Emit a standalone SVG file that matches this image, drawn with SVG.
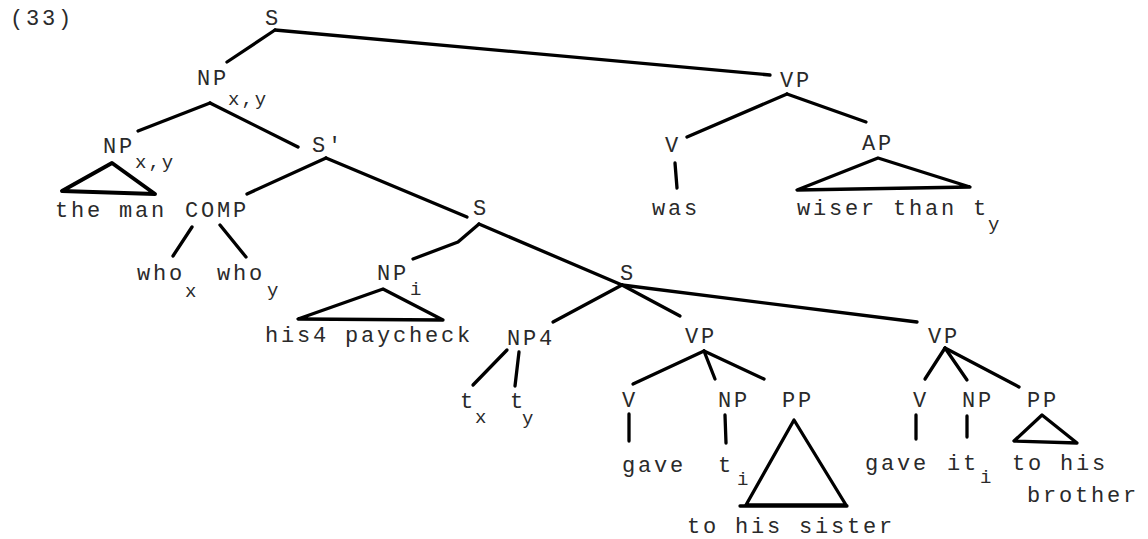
<svg xmlns="http://www.w3.org/2000/svg" width="1148" height="539" viewBox="0 0 1148 539">
<style>
text{font-family:"Liberation Mono","DejaVu Sans Mono",monospace;font-size:22px;letter-spacing:2.8px;fill:#2a2a2a}
text.sub{font-size:19px;letter-spacing:2px}
.e line,.e polyline,.e polygon{stroke:#000;stroke-width:3.3;stroke-linecap:round;stroke-linejoin:round;fill:none}
</style>
<rect width="1148" height="539" fill="#fff"/>
<g id="connectors" class="e">
<line x1="275" y1="30" x2="227" y2="62"/>
<line x1="275" y1="30" x2="770" y2="75"/>
<line x1="210" y1="103" x2="138" y2="131"/>
<line x1="210" y1="103" x2="298" y2="147"/>
<line x1="787" y1="94" x2="687" y2="137"/>
<line x1="787" y1="94" x2="866" y2="122"/>
<polygon points="112,163 62,191 155,194" style="stroke-width:4"/>
<line x1="326" y1="158" x2="247" y2="194"/>
<line x1="326" y1="158" x2="467" y2="217"/>
<line x1="192" y1="227" x2="173" y2="256"/>
<line x1="220" y1="225" x2="246" y2="257"/>
<line x1="675" y1="163" x2="677" y2="188"/>
<polygon points="878,158 797,190 970,187"/>
<polyline points="479,224 458,242 413,259"/>
<line x1="479" y1="224" x2="622" y2="285"/>
<polygon points="383,289 298,319 443,320"/>
<line x1="622" y1="285" x2="553" y2="322"/>
<line x1="622" y1="285" x2="680" y2="316"/>
<line x1="622" y1="285" x2="917" y2="322"/>
<line x1="507" y1="350" x2="473" y2="385"/>
<line x1="519" y1="352" x2="515" y2="386"/>
<line x1="704" y1="351" x2="633" y2="384"/>
<line x1="704" y1="351" x2="715" y2="379"/>
<line x1="704" y1="351" x2="764" y2="379"/>
<line x1="629" y1="414" x2="629" y2="441"/>
<line x1="725" y1="415" x2="726" y2="443"/>
<polygon points="794,420 746,505 846,505"/>
<line x1="740" y1="506" x2="847" y2="506"/>
<line x1="945" y1="348" x2="925" y2="379"/>
<line x1="945" y1="348" x2="967" y2="380"/>
<line x1="945" y1="348" x2="1019" y2="387"/>
<line x1="916" y1="415" x2="916" y2="439"/>
<line x1="967" y1="416" x2="967" y2="437"/>
<polygon points="1042,415 1014,441 1077,443"/>
</g>
<g id="label-33"><text x="10" y="25">(33)</text></g>
<g id="S-root"><text x="265" y="25">S</text></g>
<g id="NP-xy-top"><text x="197" y="85">NP</text><text class="sub" x="228" y="105">x,y</text></g>
<g id="VP-top"><text x="780" y="87">VP</text></g>
<g id="NP-xy"><text x="103" y="153">NP</text><text class="sub" x="135" y="168">x,y</text></g>
<g id="the-man"><text x="55" y="217">the man</text></g>
<g id="COMP"><text x="185" y="217">COMP</text></g>
<g id="who-x"><text x="137" y="280">who</text><text class="sub" x="185" y="297">x</text></g>
<g id="who-y"><text x="217" y="280">who</text><text class="sub" x="267" y="296">y</text></g>
<g id="S-prime"><text x="312" y="152">S'</text></g>
<g id="S-mid"><text x="473" y="215">S</text></g>
<g id="V-was"><text x="665" y="152">V</text></g>
<g id="was"><text x="652" y="215">was</text></g>
<g id="AP"><text x="862" y="150">AP</text></g>
<g id="wiser"><text x="797" y="215">wiser than t</text><text class="sub" x="988" y="230">y</text></g>
<g id="NP-i"><text x="377" y="280">NP</text><text class="sub" x="410" y="295">i</text></g>
<g id="his4"><text x="265" y="342">his4 paycheck</text></g>
<g id="S-low"><text x="620" y="280">S</text></g>
<g id="NP4"><text x="507" y="345">NP4</text></g>
<g id="t-x"><text x="460" y="408">t</text><text class="sub" x="475" y="423">x</text></g>
<g id="t-y"><text x="510" y="408">t</text><text class="sub" x="522" y="424">y</text></g>
<g id="VP-1"><text x="685" y="343">VP</text></g>
<g id="V-1"><text x="622" y="407">V</text></g>
<g id="NP-1"><text x="718" y="407">NP</text></g>
<g id="PP-1"><text x="782" y="407">PP</text></g>
<g id="gave-1"><text x="622" y="472">gave</text></g>
<g id="t-i"><text x="718" y="472">t</text><text class="sub" x="737" y="485">i</text></g>
<g id="to-his-sister"><text x="687" y="533">to his sister</text></g>
<g id="VP-2"><text x="928" y="343">VP</text></g>
<g id="V-2"><text x="913" y="407">V</text></g>
<g id="NP-2"><text x="962" y="407">NP</text></g>
<g id="PP-2"><text x="1027" y="407">PP</text></g>
<g id="gave-2"><text x="865" y="470">gave</text></g>
<g id="it-i"><text x="947" y="470">it</text><text class="sub" x="980" y="483">i</text></g>
<g id="to-his-brother"><text x="1012" y="470">to his</text><text x="1027" y="502">brother</text></g>
</svg>
